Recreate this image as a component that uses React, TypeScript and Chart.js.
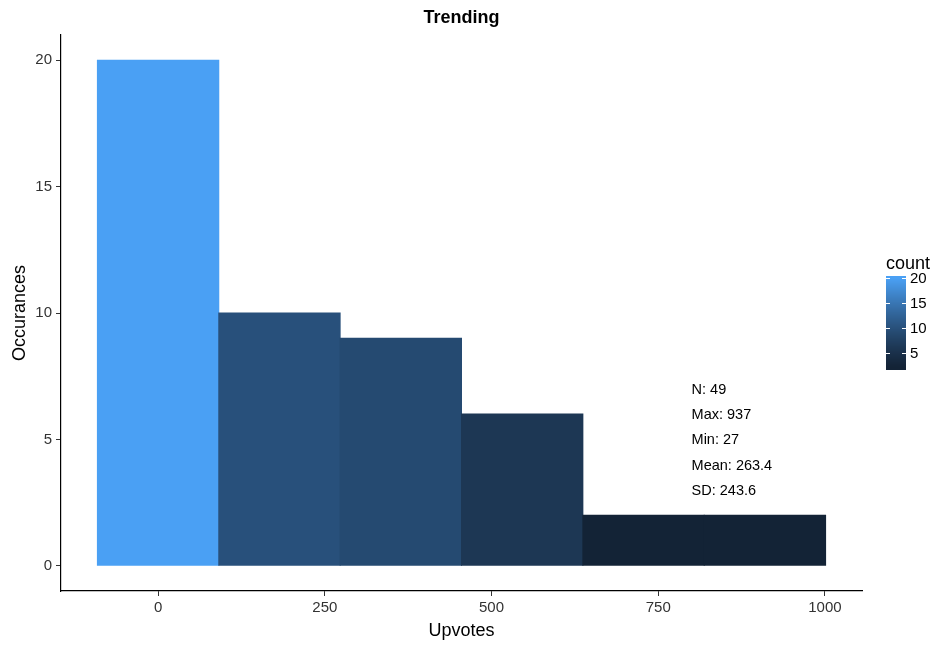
import React, { useEffect, useRef } from "react";
import { Chart, registerables } from "chart.js";

Chart.register(...registerables);

// ---- data ----
const binCenters = [0, 182, 364, 546, 728, 910];
const counts = [20, 10, 9, 6, 2, 2];
const binWidth = 182;
const xTicks = [0, 250, 500, 750, 1000];
const yTicks = [0, 5, 10, 15, 20];
const legendTicks = [5, 10, 15, 20];
const statLabels = ["N: 49", "Max: 937", "Min: 27", "Mean: 263.4", "SD: 243.6"];
const statX = 800;
const statY = [7, 6, 5, 4, 3];

const titleText = "Trending";
const xTitle = "Upvotes";
const yTitle = "Occurances";
const legendTitle = "count";

// ---- colour scale (Lab interpolation, like ggplot's gradient) ----
const LOW = "#132336";
const HIGH = "#4AA0F4";

function hexToRgb(h: string): number[] {
  const n = parseInt(h.slice(1), 16);
  return [(n >> 16) & 255, (n >> 8) & 255, n & 255];
}
function toLin(c: number) {
  c /= 255;
  return c <= 0.04045 ? c / 12.92 : Math.pow((c + 0.055) / 1.055, 2.4);
}
function fromLin(c: number) {
  const v = c <= 0.0031308 ? 12.92 * c : 1.055 * Math.pow(c, 1 / 2.4) - 0.055;
  return Math.max(0, Math.min(255, Math.round(v * 255)));
}
const XN = 0.95047, YN = 1.0, ZN = 1.08883;
function f(t: number) {
  return t > 0.008856 ? Math.cbrt(t) : 7.787 * t + 16 / 116;
}
function finv(t: number) {
  return t > 0.206893 ? t * t * t : (t - 16 / 116) / 7.787;
}
function rgbToLab(rgb: number[]): number[] {
  const [r, g, b] = rgb.map(toLin);
  const X = 0.4124 * r + 0.3576 * g + 0.1805 * b;
  const Y = 0.2126 * r + 0.7152 * g + 0.0722 * b;
  const Z = 0.0193 * r + 0.1192 * g + 0.9505 * b;
  const fx = f(X / XN), fy = f(Y / YN), fz = f(Z / ZN);
  return [116 * fy - 16, 500 * (fx - fy), 200 * (fy - fz)];
}
function labToRgb(lab: number[]): number[] {
  const fy = (lab[0] + 16) / 116;
  const fx = fy + lab[1] / 500;
  const fz = fy - lab[2] / 200;
  const X = XN * finv(fx), Y = YN * finv(fy), Z = ZN * finv(fz);
  const r = 3.2406 * X - 1.5372 * Y - 0.4986 * Z;
  const g = -0.9689 * X + 1.8758 * Y + 0.0415 * Z;
  const b = 0.0557 * X - 0.204 * Y + 1.057 * Z;
  return [fromLin(r), fromLin(g), fromLin(b)];
}
const labLow = rgbToLab(hexToRgb(LOW));
const labHigh = rgbToLab(hexToRgb(HIGH));
const cMin = Math.min(...counts);
const cMax = Math.max(...counts);
function colorFor(v: number): string {
  let t = (v - cMin) / (cMax - cMin);
  t = Math.max(0, Math.min(1, t));
  t = Math.pow(t, 1.15);
  const lab = labLow.map((l, i) => l + (labHigh[i] - l) * t);
  const [r, g, b] = labToRgb(lab);
  return `rgb(${r},${g},${b})`;
}

const FONT = "'Liberation Sans', Arial, Helvetica, sans-serif";

const overlayPlugin = {
  id: "overlay",
  afterDraw(chart: any) {
    const ctx = chart.ctx;
    const area = chart.chartArea;
    const xs = chart.scales.x;
    const ys = chart.scales.y;
    ctx.save();
    // title
    ctx.fillStyle = "#000";
    ctx.font = `bold 18px ${FONT}`;
    ctx.textAlign = "center";
    ctx.textBaseline = "middle";
    ctx.fillText(titleText, (area.left + area.right) / 2, 18.5);

    // stats annotation
    ctx.font = `14.5px ${FONT}`;
    ctx.textAlign = "left";
    ctx.textBaseline = "middle";
    statLabels.forEach((s, i) => {
      ctx.fillText(s, xs.getPixelForValue(statX), ys.getPixelForValue(statY[i]) + 1);
    });

    // colour bar legend
    const bx = 886, bw = 20, btop = 276, bh = 94;
    const half = bh / 40;
    const valToY = (v: number) =>
      btop + bh - half - ((v - cMin) / (cMax - cMin)) * (bh - 2 * half);
    for (let y = btop; y < btop + bh; y++) {
      const v = cMin + ((btop + bh - half - (y + 0.5)) / (bh - 2 * half)) * (cMax - cMin);
      ctx.fillStyle = colorFor(v);
      ctx.fillRect(bx, y, bw, 1);
    }
    ctx.strokeStyle = "#fff";
    ctx.lineWidth = 1;
    legendTicks.forEach((v) => {
      const y = Math.round(valToY(v)) + 0.5;
      ctx.beginPath();
      ctx.moveTo(bx, y);
      ctx.lineTo(bx + 4, y);
      ctx.moveTo(bx + bw - 4, y);
      ctx.lineTo(bx + bw, y);
      ctx.stroke();
    });
    ctx.fillStyle = "#000";
    ctx.font = `15px ${FONT}`;
    ctx.textAlign = "left";
    ctx.textBaseline = "middle";
    legendTicks.forEach((v) => {
      ctx.fillText(String(v), bx + bw + 4, valToY(v) + 1);
    });
    ctx.font = `18px ${FONT}`;
    ctx.fillText(legendTitle, bx, 264);
    ctx.restore();
  },
};

export default function App() {
  const ref = useRef<HTMLCanvasElement | null>(null);
  useEffect(() => {
    document.body.style.margin = "0";
    const canvas = ref.current;
    if (!canvas) return;
    const lo = binCenters[0] - binWidth / 2;
    const hi = binCenters[binCenters.length - 1] + binWidth / 2;
    const xPad = (hi - lo) * 0.05;
    const yPad = cMax * 0.05;
    const chart = new Chart(canvas, {
      type: "bar",
      data: {
        datasets: [
          {
            data: binCenters.map((x, i) => ({ x, y: counts[i] })),
            backgroundColor: counts.map(colorFor),
            borderWidth: 0,
            barPercentage: 1,
            categoryPercentage: 1,
            inflateAmount: 0.5,
          } as any,
        ],
      },
      options: {
        animation: false,
        responsive: false,
        devicePixelRatio: 1,
        layout: { padding: { top: 35, right: 87, left: 0, bottom: 0 } },
        plugins: {
          legend: { display: false },
          tooltip: { enabled: false },
          title: { display: false },
        },
        scales: {
          x: {
            type: "linear",
            offset: false,
            min: lo - xPad,
            max: hi + xPad,
            afterBuildTicks: (s: any) => {
              s.ticks = xTicks.map((v) => ({ value: v }));
            },
            afterFit: (s: any) => {
              s.height = 59;
            },
            grid: {
              display: true,
              drawOnChartArea: false,
              drawTicks: true,
              tickLength: 5,
              color: "#333",
              offset: false,
            },
            border: { display: true, color: "#000", width: 1.2 },
            ticks: {
              color: "#333",
              font: { family: FONT, size: 15 },
              padding: 3,
              maxRotation: 0,
              autoSkip: false,
              callback: (v: any) => String(v),
            },
            title: {
              display: true,
              text: xTitle,
              color: "#000",
              font: { family: FONT, size: 18 },
              padding: { top: 0, bottom: 8 },
            },
          },
          y: {
            type: "linear",
            min: -yPad,
            max: cMax + yPad,
            afterBuildTicks: (s: any) => {
              s.ticks = yTicks.map((v) => ({ value: v }));
            },
            afterFit: (s: any) => {
              s.width = 61;
            },
            grid: {
              display: true,
              drawOnChartArea: false,
              drawTicks: true,
              tickLength: 5,
              color: "#333",
            },
            border: { display: true, color: "#000", width: 1.2 },
            ticks: {
              color: "#333",
              font: { family: FONT, size: 15 },
              padding: 4,
              autoSkip: false,
              callback: (v: any) => String(v),
            },
            title: {
              display: true,
              text: yTitle,
              color: "#000",
              font: { family: FONT, size: 18 },
              padding: { top: 9, bottom: 0 },
            },
          },
        },
      },
      plugins: [overlayPlugin],
    } as any);
    return () => chart.destroy();
  }, []);
  return (
    <canvas
      ref={ref}
      width={949}
      height={650}
      style={{ display: "block", width: 949, height: 650 }}
    />
  );
}
